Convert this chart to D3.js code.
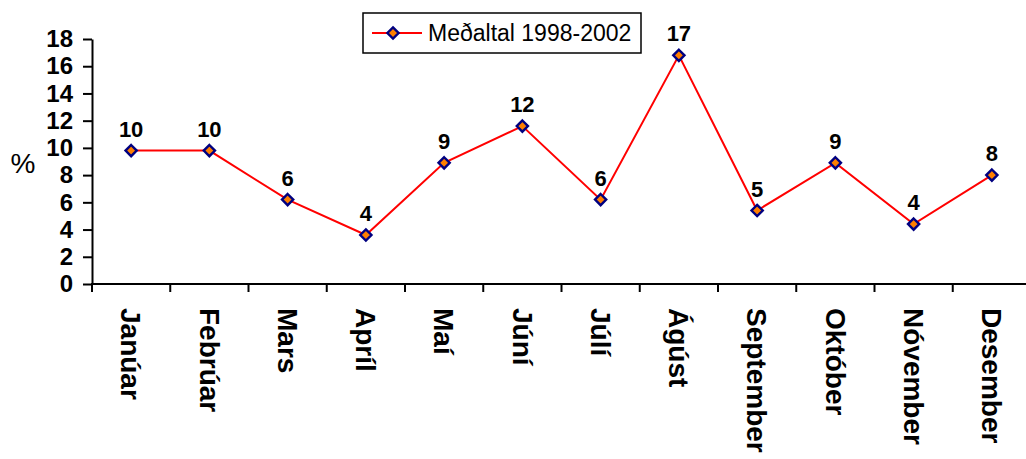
<!DOCTYPE html>
<html>
<head>
<meta charset="utf-8">
<script src="https://cdn.jsdelivr.net/npm/d3@7"></script>
<style>
  html, body { margin: 0; padding: 0; background: #fff; }
  svg { display: block; }
  text { font-family: Arial, "Liberation Sans", sans-serif; fill: #000; }
</style>
</head>
<body>
<svg id="chart" width="1026" height="459"></svg>
<script>
// Monthly average share (%), 1998-2002
const months = ["Janúar", "Febrúar", "Mars", "Apríl", "Maí", "Júní",
                "Júlí", "Ágúst", "September", "Október", "Nóvember", "Desember"];
const values = [9.8, 9.8, 6.2, 3.6, 8.9, 11.6, 6.2, 16.8, 5.4, 8.9, 4.4, 8.0];
const yTicks = [0, 2, 4, 6, 8, 10, 12, 14, 16, 18];
const seriesName = "Meðaltal 1998-2002";

const svg = d3.select("#chart");

const x = d3.scaleBand().domain(months).range([92, 1031]).padding(0);
const y = d3.scaleLinear().domain([0, 18]).range([284, 39]);

// Y axis
const yAxis = svg.append("g")
  .attr("transform", "translate(92,0)")
  .call(d3.axisLeft(y).tickValues(yTicks).tickSize(9).tickSizeOuter(0).tickPadding(10));
yAxis.select(".domain").attr("stroke", "#000").attr("stroke-width", 2);
yAxis.selectAll(".tick line").attr("stroke", "#000").attr("stroke-width", 2);
yAxis.selectAll(".tick text")
  .style("font-size", "24px").style("font-weight", "bold")
  .attr("font-family", null);

// Y axis title
svg.append("text")
  .attr("x", 23).attr("y", 173)
  .attr("text-anchor", "middle")
  .style("font-size", "28px")
  .text("%");

// X axis line and boundary ticks
const xg = svg.append("g");
xg.append("line")
  .attr("x1", 91).attr("x2", 1031)
  .attr("y1", y(0)).attr("y2", y(0))
  .attr("stroke", "#000").attr("stroke-width", 2);
xg.selectAll("line.tick")
  .data(months)
  .join("line")
  .attr("class", "tick")
  .attr("x1", d => x(d)).attr("x2", d => x(d))
  .attr("y1", y(0)).attr("y2", y(0) + 8)
  .attr("stroke", "#000").attr("stroke-width", 2);

// Rotated month labels
xg.selectAll("text.month")
  .data(months)
  .join("text")
  .attr("class", "month")
  .attr("transform", d => `translate(${x(d) + x.bandwidth() / 2},${y(0) + 24}) rotate(90)`)
  .attr("dy", "0.35em")
  .attr("text-anchor", "start")
  .style("font-size", "28px").style("font-weight", "bold")
  .text(d => d);

// Series line
const line = d3.line()
  .x((d, i) => x(months[i]) + x.bandwidth() / 2)
  .y(d => y(d));

svg.append("path")
  .datum(values)
  .attr("d", line)
  .attr("fill", "none")
  .attr("stroke", "#ff0000")
  .attr("stroke-width", 2);

// Diamond markers
const diamond = d3.symbol().type(d3.symbolDiamond2).size(80);
svg.selectAll("path.marker")
  .data(values)
  .join("path")
  .attr("class", "marker")
  .attr("d", diamond)
  .attr("transform", (d, i) => `translate(${x(months[i]) + x.bandwidth() / 2},${y(d)})`)
  .attr("fill", "#ff7f00")
  .attr("stroke", "#000080")
  .attr("stroke-width", 2.4);

// Value labels
const fmt = d3.format(".0f");
svg.selectAll("text.value")
  .data(values)
  .join("text")
  .attr("class", "value")
  .attr("x", (d, i) => x(months[i]) + x.bandwidth() / 2)
  .attr("y", d => y(d) - 14)
  .attr("text-anchor", "middle")
  .style("font-size", "22px").style("font-weight", "bold")
  .text(d => fmt(d));

// Legend
const lg = svg.append("g");
lg.append("rect")
  .attr("x", 363).attr("y", 13).attr("width", 278).attr("height", 40)
  .attr("fill", "#fff").attr("stroke", "#000").attr("stroke-width", 1.5);
lg.append("line")
  .attr("x1", 372).attr("x2", 422).attr("y1", 33).attr("y2", 33)
  .attr("stroke", "#ff0000").attr("stroke-width", 2);
lg.append("path")
  .attr("d", diamond)
  .attr("transform", "translate(393,33)")
  .attr("fill", "#ff7f00").attr("stroke", "#000080").attr("stroke-width", 2.4);
lg.append("text")
  .attr("x", 428).attr("y", 41)
  .style("font-size", "23px")
  .text(seriesName);
</script>
</body>
</html>
